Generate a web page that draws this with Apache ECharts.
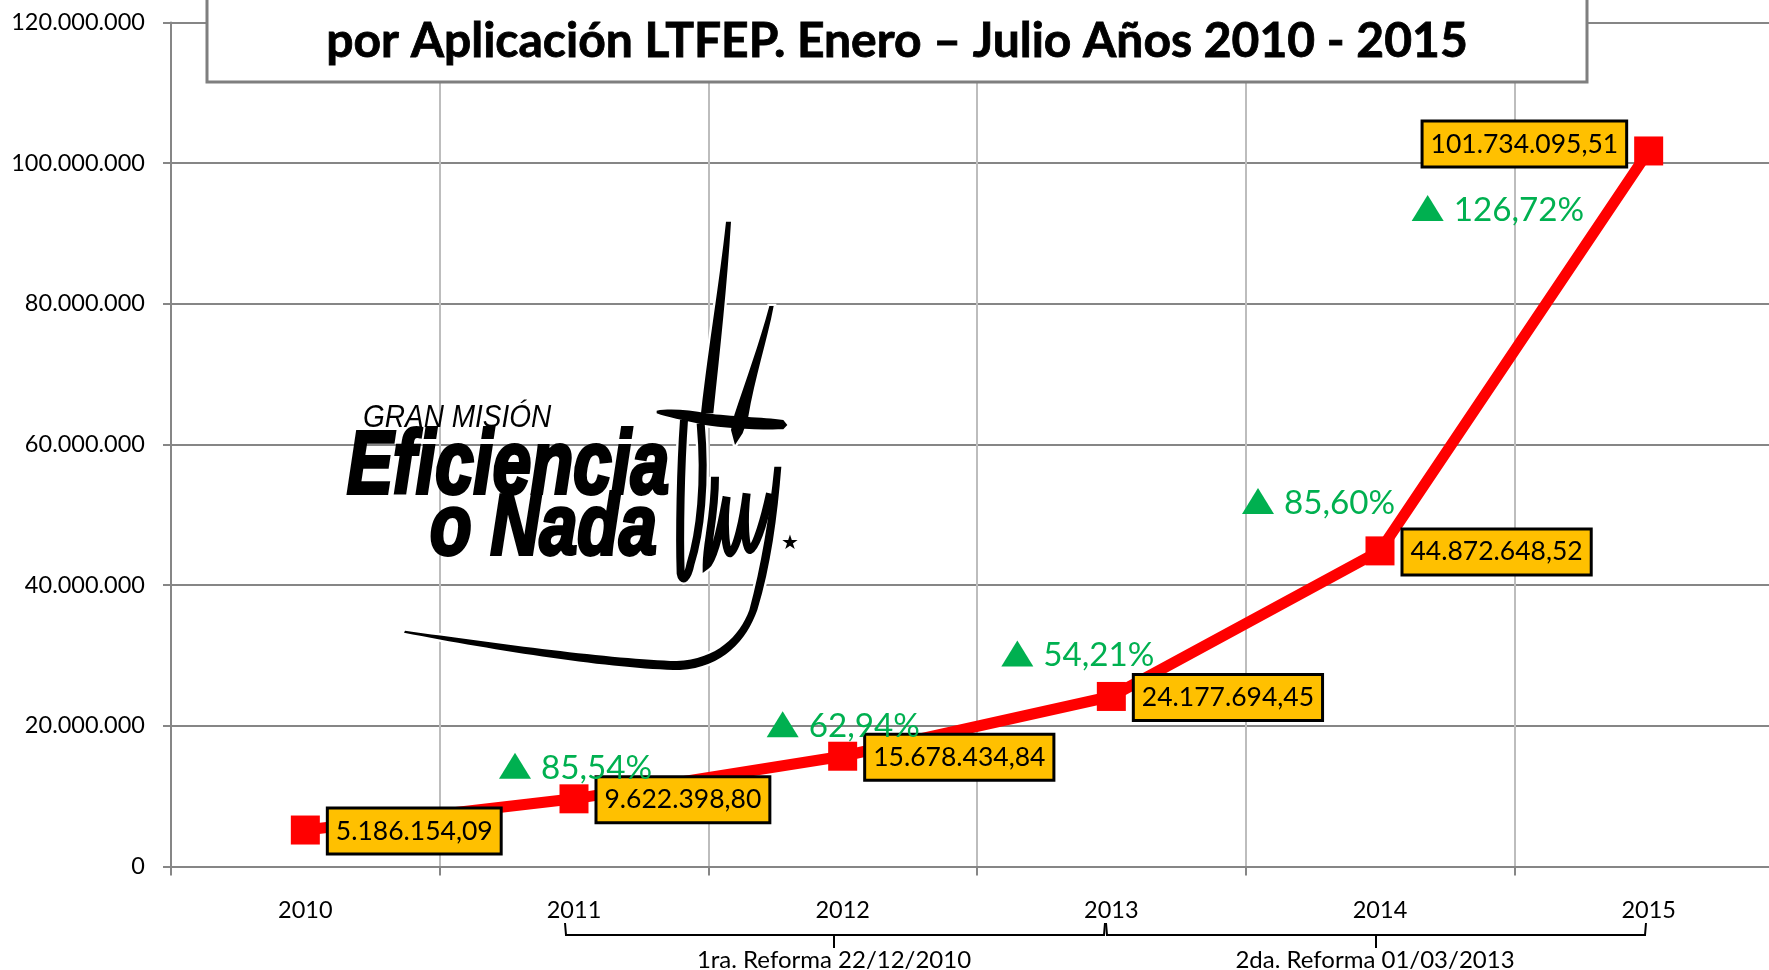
<!DOCTYPE html>
<html>
<head>
<meta charset="utf-8">
<style>html,body{margin:0;padding:0;background:#fff;overflow:hidden}#main{width:1769px;height:970px}</style>
<script src="https://cdn.jsdelivr.net/npm/echarts@6/dist/echarts.min.js"></script>
</head>
<body>
<div id="main"></div>
<script>
var years = [2010, 2011, 2012, 2013, 2014, 2015];
var values = [5186154.09, 9622398.80, 15678434.84, 24177694.45, 44872648.52, 101734095.51];
var valueLabels = ['5.186.154,09', '9.622.398,80', '15.678.434,84', '24.177.694,45', '44.872.648,52', '101.734.095,51'];
var growthLabels = ['', '85,54%', '62,94%', '54,21%', '85,60%', '126,72%'];
var yTicks = {0: '0', 20000000: '20.000.000', 40000000: '40.000.000', 60000000: '60.000.000', 80000000: '80.000.000', 100000000: '100.000.000', 120000000: '120.000.000'};
var boundaryTicks = [2009.5, 2010.5, 2011.5, 2012.5, 2013.5, 2014.5, 2015.5];

// where the green arrows sit relative to their point, in pixels
var growthOffset = [null, [-59, -33], [-60, -32], [-94, -43], [-122, -50], [-221, 57]];

var FONT = 'Lato';

// signature of the logo, drawn in a 3x space and scaled down
var sigFill = [
    'M1188,65 L1203,65 C1192,250 1170,450 1150,640 L1113,640 C1138,420 1168,250 1188,65 Z',
    'M1318,318 L1331,318 C1312,420 1275,530 1254,655 L1238,700 L1215,735 L1203,690 L1213,645 C1248,540 1288,430 1318,318 Z',
    'M980,632 C1020,625 1080,630 1130,640 C1200,650 1300,652 1360,660 L1372,675 L1360,688 C1280,690 1180,684 1120,674 C1060,660 1010,652 980,640 Z',
    'M1333,800 L1354,800 C1342,950 1322,1100 1282,1230 C1250,1320 1180,1402 1050,1410 C850,1407 500,1352 222,1298 L225,1292 C500,1330 850,1378 1040,1383 C1160,1378 1228,1310 1258,1230 C1293,1100 1318,950 1333,800 Z'
];
var sigStroke = [
    'M1062,660 C1052,800 1048,1000 1052,1120 C1056,1145 1072,1140 1082,1090 C1110,1000 1128,850 1112,670',
    'M1155,830 C1155,950 1130,1030 1130,1095 C1150,1080 1170,1000 1190,890 C1180,960 1185,1060 1200,1060 C1220,1050 1240,960 1250,880 C1240,960 1245,1050 1260,1050 C1280,1040 1305,950 1320,880'
];

function sigPath(d, style) {
    return {type: 'path', x: 330, y: 200, scaleX: 1 / 3, scaleY: 1 / 3, shape: {pathData: d}, style: style};
}

function renderSignature() {
    var kids = [];
    sigFill.forEach(function (d) { kids.push(sigPath(d, {fill: '#fff', stroke: '#fff', lineWidth: 14})); });
    sigStroke.forEach(function (d) { kids.push(sigPath(d, {fill: 'none', stroke: '#fff', lineWidth: 38})); });
    sigFill.forEach(function (d) { kids.push(sigPath(d, {fill: '#000'})); });
    sigStroke.forEach(function (d) { kids.push(sigPath(d, {fill: 'none', stroke: '#000', lineWidth: 24})); });
    return {type: 'group', children: kids};
}

var logoText = [
    {type: 'text', x: 363, y: 434, scaleY: 1.15, z: 4, style: {text: 'GRAN MISIÓN', fill: '#000', font: 'italic 28px "Liberation Sans"', verticalAlign: 'bottom'}},
    {type: 'text', x: 347, y: 513, scaleY: 1.28, z: 4, style: {text: 'Eficiencia', fill: '#000', stroke: '#000', lineWidth: 3, font: 'italic bold 69px "Liberation Sans"', verticalAlign: 'bottom'}},
    {type: 'text', x: 430, y: 573, scaleY: 1.25, z: 4, style: {text: 'o Nada', fill: '#000', stroke: '#000', lineWidth: 3, font: 'italic bold 68px "Liberation Sans"', verticalAlign: 'bottom'}},
    {type: 'text', x: 781, y: 544, z: 4, style: {text: '★', fill: '#000', font: '20px "DejaVu Sans"', verticalAlign: 'middle'}}
];

// braces under the year labels
function brace(x0, xMid, x1) {
    return {
        type: 'polyline', z: 4,
        shape: {points: [[x0, 923], [x0 + 1, 935], [xMid, 935], [xMid, 948], [xMid, 935], [x1 - 1, 935], [x1, 923]]},
        style: {stroke: '#000', lineWidth: 2, fill: null}
    };
}
function note(text, x) {
    return {type: 'text', x: x, y: 960, z: 4, style: {text: text, fill: '#000', font: '24px ' + FONT, align: 'center', verticalAlign: 'middle'}};
}

var titleBox = {type: 'rect', z: 10, shape: {x: 207, y: -10, width: 1380, height: 92}, style: {fill: '#fff', stroke: '#7f7f7f', lineWidth: 3}};

var option = {
    animation: false,
    backgroundColor: '#fff',
    title: {
        text: 'por Aplicación LTFEP. Enero – Julio Años 2010 - 2015',
        left: 892, top: 13, textAlign: 'center', z: 20,
        textStyle: {fontFamily: FONT, fontWeight: 'bold', fontSize: 48, color: '#000', textBorderColor: '#000', textBorderWidth: 0.8}
    },
    grid: {left: 171, top: 22.5, width: 1612, height: 844, outerBoundsMode: 'none'},
    xAxis: {
        type: 'value', min: 2009.5, max: 2015.5, interval: 0.5,
        axisLine: {onZero: false, lineStyle: {color: '#868686', width: 2}},
        axisTick: {show: true, length: 9, customValues: boundaryTicks, lineStyle: {color: '#868686', width: 2}},
        axisLabel: {customValues: years, margin: 32, fontFamily: FONT, fontSize: 23.5, color: '#000', formatter: function (v) { return String(v); }},
        splitLine: {show: true, lineStyle: {color: '#bdbdbd', width: 2}}
    },
    yAxis: {
        type: 'value', min: 0, max: 120000000, interval: 20000000,
        axisLine: {show: true, lineStyle: {color: '#868686', width: 2}},
        axisTick: {show: true, length: 8, lineStyle: {color: '#868686', width: 2}},
        axisLabel: {margin: 26, fontFamily: FONT, fontSize: 23.5, color: '#000', formatter: function (v) { return yTicks[v]; }},
        splitLine: {show: true, lineStyle: {color: '#868686', width: 2}}
    },
    graphic: {elements: [titleBox].concat(logoText, [
        brace(565, 834, 1105), brace(1106, 1376, 1646),
        note('1ra. Reforma 22/12/2010', 834), note('2da. Reforma 01/03/2013', 1375)
    ])},
    series: [{
        type: 'custom',
        name: 'Firma',
        coordinateSystem: 'none',
        silent: true,
        z: 3,
        data: [0],
        renderItem: renderSignature
    }, {
        type: 'line',
        name: 'Valor',
        symbol: 'rect',
        symbolSize: 29,
        z: 5,
        lineStyle: {color: '#ff0000', width: 11, join: 'miter'},
        itemStyle: {color: '#ff0000'},
        data: values.map(function (v, i) {
            var last = i === values.length - 1;
            return {
                value: [years[i], v],
                label: {
                    show: true,
                    formatter: valueLabels[i],
                    position: last ? 'left' : 'right',
                    distance: 9,
                    offset: last ? [0, -7] : [0, 1],
                    fontFamily: FONT, fontSize: 26.5, lineHeight: 31, color: '#000',
                    backgroundColor: '#ffc000',
                    borderColor: '#000', borderWidth: 3,
                    padding: [6, 7, 6, 7]
                }
            };
        })
    }, {
        type: 'line',
        name: 'Variación',
        symbol: 'triangle',
        z: 6,
        lineStyle: {opacity: 0},
        itemStyle: {color: '#00b050'},
        data: values.map(function (v, i) {
            if (!growthLabels[i]) return {value: [years[i], v], symbol: 'none'};
            return {
                value: [years[i], v],
                symbolSize: [32, 26],
                symbolOffset: growthOffset[i],
                label: {
                    show: true,
                    formatter: growthLabels[i],
                    position: 'right',
                    distance: 10,
                    offset: [0, 2],
                    fontFamily: FONT, fontSize: 33.2, color: '#00b050'
                }
            };
        })
    }]
};

var chart = echarts.init(document.getElementById('main'));
chart.setOption(option);
</script>
</body>
</html>
